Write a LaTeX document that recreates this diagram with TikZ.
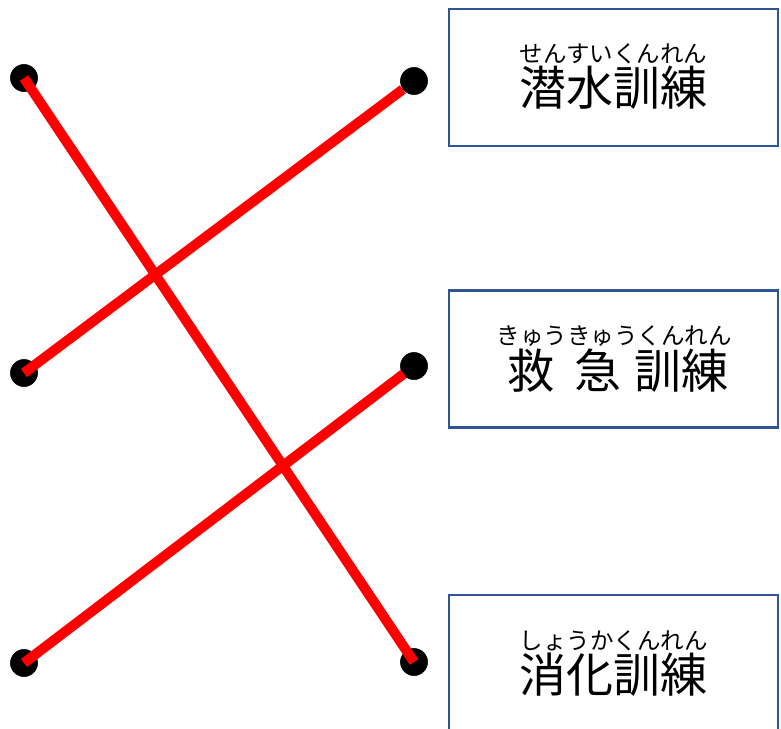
\documentclass[tikz,border=0pt]{standalone}
\usepackage{fontspec}
\usepackage{tikz}
\usetikzlibrary{positioning}
\newfontfamily\jp{Noto Sans CJK JP}
\definecolor{boxblue}{HTML}{2F5597}
\definecolor{wirered}{HTML}{FF0000}

\begin{document}
\begin{tikzpicture}[x=1pt, y=-1pt,
    blackdot/.style={circle, fill=black, draw=white, line width=1pt,
                     minimum size=29pt, inner sep=0pt},
    wire/.style={draw=wirered, line width=10pt},
    namebox/.style={draw=boxblue, line width=2.5pt, fill=white,
                    minimum width=329pt, minimum height=137pt},
    kanji/.style={font=\jp\fontsize{47pt}{47pt}\selectfont, inner sep=0pt},
    furigana/.style={font=\jp\fontsize{23.5pt}{23.5pt}\selectfont, inner sep=0pt},
]
\useasboundingbox (0,0) rectangle (781,728);

% answer boxes
\node[namebox] (box1) at (613.5,77.5) {};
\node[namebox] (box2) at (613.5,359) {};
\node[namebox] (box3) at (613.5,663.5) {};

\node[kanji] (word1) at (613.5,88) {潜水訓練};
\node[furigana, above=2pt of word1] (ruby1) {せんすいくんれん};
\node[kanji] (word2) at (618,371) {救\hspace{21pt}急\hspace{13pt}訓練};
\node[furigana, above=2pt of word2, xshift=-4pt] (ruby2) {きゅうきゅうくんれん};
\node[kanji] (word3) at (613.5,675) {消化訓練};
\node[furigana, above=2pt of word3] (ruby3) {しょうかくんれん};

% dots
\node[blackdot] (l1) at (24,78) {};
\node[blackdot] (l2) at (24,373) {};
\node[blackdot] (l3) at (24,663) {};
\node[blackdot] (r1) at (414,81) {};
\node[blackdot] (r2) at (414,366) {};
\node[blackdot] (r3) at (414,662) {};

% answers
\draw[wire] (l1.center) -- (r3.center);
\draw[wire, shorten <=14pt] (r1.center) -- (l2.center);
\draw[wire, shorten <=13pt] (r2.center) -- (l3.center);
\end{tikzpicture}
\end{document}
